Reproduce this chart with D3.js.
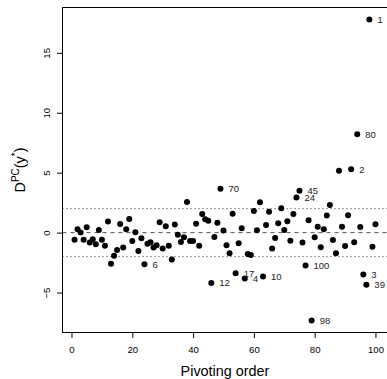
<!DOCTYPE html>
<html>
<head>
<meta charset="utf-8">
<script src="https://cdn.jsdelivr.net/npm/d3@7"></script>
<style>
  body { margin: 0; background: #fff; }
  svg { display: block; font-family: "Liberation Sans", Arial, sans-serif; }
</style>
</head>
<body>
<div id="chart"></div>
<script>
// D^PC(y*) for each step of the pivoting order (1..100)
const dpcValues = [
  -0.6, 0.28, 0.0, -0.6, 0.45, -0.83, -0.55, -0.97, 0.22, -0.6,
  -1.1, 0.92, -2.6, -1.94, -1.44, 0.72, -1.25, 0.28, 1.14, -0.69,
  0.03, -1.53, -0.47, -2.64, -0.92, -0.8, -1.25, -1.05, 0.86, -1.33,
  0.53, -1.1, -2.25, 0.67, -0.17, -0.78, -0.39, 2.56, -0.69, -0.69,
  0.75, -1.1, 1.56, 1.11, 1.0, -4.2, -0.36, 0.83, 3.67, 0.17,
  -1.05, -1.72, 1.58, -3.39, -0.89, 0.36, -3.83, -1.78, -1.86, 1.81,
  0.19, 2.53, -3.67, 0.64, 1.75, -1.33, -0.44, 0.78, 2.03, 0.22,
  0.95, -0.67, 1.56, 2.92, 3.5, -0.83, -2.75, 1.03, -7.33, -0.39,
  0.5, -1.22, 0.28, 1.42, 2.31, -0.61, -1.72, 5.17, 0.5, -1.11,
  1.45, 5.28, -0.8, 8.2, 0.47, -3.5, -4.36, 17.78, -1.17, 0.7
]

// which pivoting positions get a label, and the label text
const labelOrder = [24, 46, 49, 54, 57, 63, 74, 75, 77, 79, 92, 94, 96, 97, 98]
const labelText  = ["6", "12", "70", "17", "4", "10", "24", "45", "100", "98", "2", "80", "3", "39", "1"]

const xTicks = [0, 20, 40, 60, 80, 100]
const yTicks = [-5, 0, 5, 10, 15]
const refLines = [-2, 0, 2]

const width = 387
const height = 379
const plotLeft = 62.5, plotRight = 387.5, plotTop = 7.5, plotBottom = 332.5
const radius = 3

const svg = d3.select('#chart')
  .append('svg')
  .attr('width', width)
  .attr('height', height)

const points = dpcValues.map((v, i) => ({ order: i + 1, value: v }))

// R style 4% axis extension
const xExt = d3.extent(points, d => d.order)
const yExt = d3.extent(points, d => d.value)
const xPad = (xExt[1] - xExt[0]) * 0.04
const yPad = (yExt[1] - yExt[0]) * 0.04

const xScale = d3.scaleLinear()
  .domain([xExt[0] - xPad, xExt[1] + xPad])
  .range([plotLeft, plotRight])

const yScale = d3.scaleLinear()
  .domain([yExt[0] - yPad, yExt[1] + yPad])
  .range([plotBottom, plotTop])

// reference lines
svg.selectAll('line.ref')
  .data(refLines)
  .enter()
  .append('line')
  .attr('class', 'ref')
  .attr('x1', plotLeft)
  .attr('x2', plotRight)
  .attr('y1', d => yScale(d))
  .attr('y2', d => yScale(d))
  .attr('stroke', d => d === 0 ? '#555' : '#333')
  .attr('stroke-width', 1)
  .attr('stroke-dasharray', d => d === 0 ? '4,4' : '1,3')

// points
svg.selectAll('circle.dot')
  .data(points)
  .enter()
  .append('circle')
  .attr('class', 'dot')
  .attr('cx', d => xScale(d.order))
  .attr('cy', d => yScale(d.value))
  .attr('r', radius)
  .attr('fill', '#000')

// point labels
svg.selectAll('text.lab')
  .data(labelOrder)
  .enter()
  .append('text')
  .attr('class', 'lab')
  .attr('x', d => xScale(d) + 8)
  .attr('y', d => yScale(dpcValues[d - 1]))
  .attr('dy', '0.36em')
  .attr('font-size', '9.5px')
  .attr('fill', '#222')
  .text((d, i) => labelText[i])

// axes
const xAxis = d3.axisBottom(xScale).tickValues(xTicks).tickSize(5.5).tickPadding(8)
const yAxis = d3.axisLeft(yScale).tickValues(yTicks).tickSize(5.5)

const gx = svg.append('g')
  .attr('transform', 'translate(0,' + plotBottom + ')')
  .call(xAxis)
gx.select('.domain').remove()
gx.selectAll('text').attr('font-size', '9.6px').attr('fill', '#000')
  .attr('font-family', null)

const gy = svg.append('g')
  .attr('transform', 'translate(' + plotLeft + ',0)')
  .call(yAxis)
gy.select('.domain').remove()
gy.selectAll('text')
  .attr('font-size', '9.6px')
  .attr('fill', '#000')
  .attr('font-family', null)
  .attr('transform', 'rotate(-90)')
  .attr('x', 0)
  .attr('y', -12.5)
  .attr('dy', 0)
  .attr('text-anchor', 'middle')

svg.selectAll('.tick line').attr('stroke', '#000')

// box
svg.append('rect')
  .attr('x', plotLeft)
  .attr('y', plotTop)
  .attr('width', plotRight - plotLeft)
  .attr('height', plotBottom - plotTop)
  .attr('fill', 'none')
  .attr('stroke', '#000')

// titles
svg.append('text')
  .attr('x', (plotLeft + plotRight) / 2)
  .attr('y', 375.5)
  .attr('text-anchor', 'middle')
  .attr('font-size', '14.4px')
  .text('Pivoting order')

const yTitle = svg.append('text')
  .attr('transform', 'translate(25,' + ((plotTop + plotBottom) / 2) + ') rotate(-90)')
  .attr('text-anchor', 'middle')
  .attr('font-size', '14.4px')
yTitle.append('tspan').text('D')
yTitle.append('tspan').attr('font-size', '10px').attr('dy', '-6').text('PC')
yTitle.append('tspan').attr('dy', '6').text('(y')
yTitle.append('tspan').attr('font-size', '10px').attr('dy', '-6').text('*')
yTitle.append('tspan').attr('dy', '6').text(')')
</script>
</body>
</html>
